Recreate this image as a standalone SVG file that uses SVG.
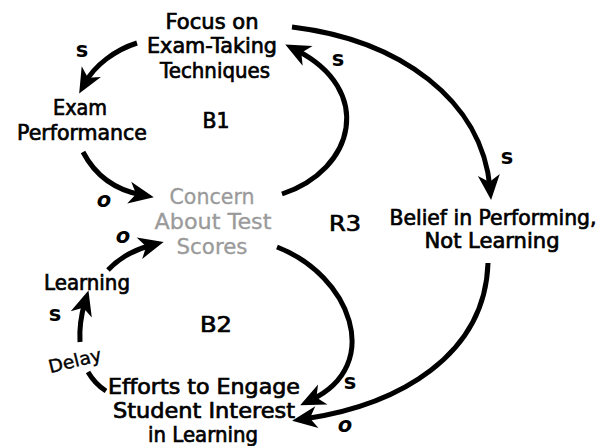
<svg xmlns="http://www.w3.org/2000/svg" width="610" height="446" viewBox="0 0 610 446">
<style>
  .t { font-family: "DejaVu Sans", "Liberation Sans", sans-serif; font-size: 20.5px; fill: #000; stroke: #000; stroke-width: 0.7px; text-anchor: middle; }
  .g { font-family: "DejaVu Sans", "Liberation Sans", sans-serif; font-size: 21px; fill: #9a9a9a; stroke: #9a9a9a; stroke-width: 0.3px; text-anchor: middle; }
  .lbl { font-family: "DejaVu Sans", "Liberation Sans", sans-serif; font-weight: bold; font-size: 21px; fill: #000; text-anchor: middle; }
  .o { font-style: italic; }
  .delay { font-family: "DejaVu Sans", "Liberation Sans", sans-serif; font-size: 18px; fill: #000; stroke: #000; stroke-width: 0.4px; text-anchor: middle; }
  .c { fill: none; stroke: #000; stroke-width: 5; stroke-linecap: butt; }
</style>
<defs>
  <marker id="ah" viewBox="-26 -12 28 24" refX="-12" refY="0" markerWidth="28" markerHeight="24" markerUnits="userSpaceOnUse" orient="auto">
    <path d="M0,0 L-25,-11 L-18,0 L-25,11 Z" fill="#000"/>
  </marker>
</defs>
<rect width="610" height="446" fill="#fff"/>

<g id="connectors">
  <path class="c" d="M137,43 C115,50 95,65 85,83" marker-end="url(#ah)"/>
  <path class="c" d="M83,152 C95,175 115,190 142,195" marker-end="url(#ah)"/>
  <path class="c" d="M282,194 C355,170 375,90 296,50" marker-end="url(#ah)"/>
  <path class="c" d="M292,27 C400,40 482,100 490,188" marker-end="url(#ah)"/>
  <path class="c" d="M277,247 C350,275 385,365 311,400" marker-end="url(#ah)"/>
  <path class="c" d="M488,263 C485,355 400,405 304,419" marker-end="url(#ah)"/>
  <path class="c" d="M88,372 Q95,384 106,391"/>
  <path class="c" d="M80,342 C79,325 82,312 85,302" marker-end="url(#ah)"/>
  <path class="c" d="M108,270 Q125,252 152,245" marker-end="url(#ah)"/>
  <text class="lbl" x="82" y="57">s</text>
  <text class="lbl o" x="104" y="207">o</text>
  <text class="lbl" x="338" y="66">s</text>
  <text class="lbl" x="507" y="164">s</text>
  <text class="lbl o" x="123" y="243">o</text>
  <text class="lbl" x="55" y="321">s</text>
  <text class="lbl" x="350" y="389">s</text>
  <text class="lbl o" x="345" y="432">o</text>
  <text class="delay" x="75" y="367" textLength="54" lengthAdjust="spacingAndGlyphs" transform="rotate(-14 75 361)">Delay</text>
</g>

<g id="focus">
  <text class="t" x="212" y="28.5" textLength="93" lengthAdjust="spacingAndGlyphs">Focus on</text>
  <text class="t" x="212" y="53" textLength="130" lengthAdjust="spacingAndGlyphs">Exam-Taking</text>
  <text class="t" x="215" y="77.5" textLength="110" lengthAdjust="spacingAndGlyphs">Techniques</text>
</g>
<g id="exam-performance">
  <text class="t" x="80" y="115" textLength="54" lengthAdjust="spacingAndGlyphs">Exam</text>
  <text class="t" x="82" y="140" textLength="130" lengthAdjust="spacingAndGlyphs">Performance</text>
</g>
<g id="loop-b1">
  <text class="t" x="216" y="128" textLength="27" lengthAdjust="spacingAndGlyphs">B1</text>
</g>
<g id="concern">
  <text class="g" x="212" y="204" textLength="85" lengthAdjust="spacingAndGlyphs">Concern</text>
  <text class="g" x="213" y="229" textLength="117" lengthAdjust="spacingAndGlyphs">About Test</text>
  <text class="g" x="212" y="254" textLength="71" lengthAdjust="spacingAndGlyphs">Scores</text>
</g>
<g id="loop-r3">
  <text class="t" x="345" y="231" textLength="32" lengthAdjust="spacingAndGlyphs">R3</text>
</g>
<g id="belief">
  <text class="t" x="493" y="225" textLength="207" lengthAdjust="spacingAndGlyphs">Belief in Performing,</text>
  <text class="t" x="492" y="248" textLength="135" lengthAdjust="spacingAndGlyphs">Not Learning</text>
</g>
<g id="learning">
  <text class="t" x="87" y="290" textLength="86" lengthAdjust="spacingAndGlyphs">Learning</text>
</g>
<g id="loop-b2">
  <text class="t" x="216" y="332" textLength="32" lengthAdjust="spacingAndGlyphs">B2</text>
</g>
<g id="efforts">
  <text class="t" x="204" y="394" textLength="192" lengthAdjust="spacingAndGlyphs">Efforts to Engage</text>
  <text class="t" x="204" y="418" textLength="182" lengthAdjust="spacingAndGlyphs">Student Interest</text>
  <text class="t" x="203" y="442" textLength="110" lengthAdjust="spacingAndGlyphs">in Learning</text>
</g>
</svg>
